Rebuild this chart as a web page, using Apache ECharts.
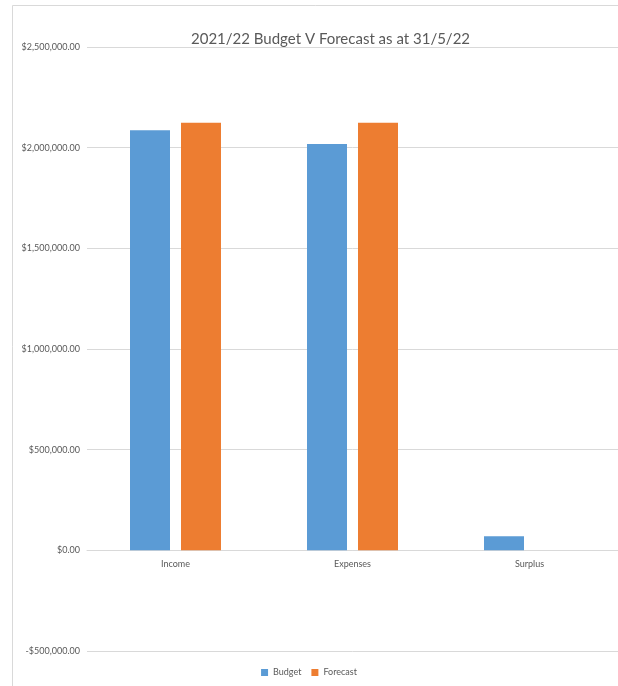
<!DOCTYPE html>
<html><head><meta charset="utf-8">
<script src="https://cdn.jsdelivr.net/npm/echarts@6/dist/echarts.min.js"></script>
<style>html,body{margin:0;padding:0;background:#fff}#c{width:618px;height:686px}</style>
</head><body><div id="c"></div>
<script>
const categories = ['Income', 'Expenses', 'Surplus'];
const budget = [2087000, 2018000, 70000];
const forecast = [2124000, 2124000, 0];
const yMin = -500000, yMax = 2500000, yStep = 500000;

const font = 'Lato, "Open Sans", sans-serif';
function money(v){
  const neg = v < 0; v = Math.abs(v);
  const s = v.toFixed(2).replace(/\B(?=(\d{3})+(?!\d))/g, ',');
  return (neg ? '-$' : '$') + s;
}
const gridTop = 47, gridH = 604;
const zeroOffset = -gridH * (0 - yMin) / (yMax - yMin);
const chart = echarts.init(document.getElementById('c'));
chart.setOption({
  animation: false,
  backgroundColor: '#fff',
  title: { text: '2021/22 Budget V Forecast as at 31/5/22', left: 186, top: 27,
    textStyle: { fontFamily: font, fontSize: 15, fontWeight: 'normal', color: '#595959' } },
  legend: { bottom: 9, left: 'center', itemWidth: 7, itemHeight: 7, itemGap: 10, icon: 'rect',
    textStyle: { fontFamily: font, fontSize: 9, color: '#595959' }, padding: [0,0,0,10] },
  graphic: [
    { type: 'polyline', shape: { points: [[12.5, 690], [12.5, 5.5], [620, 5.5]] },
      style: { stroke: '#d9d9d9', fill: null, lineWidth: 1 }, silent: true }
  ],
  grid: { left: 87, top: gridTop, right: -9, height: gridH, containLabel: false },
  xAxis: { type: 'category', data: categories, offset: zeroOffset,
    axisLine: { show: true, onZero: false, lineStyle: { color: '#d9d9d9', width: 1 } }, axisTick: { show: false },
    axisLabel: { fontFamily: font, fontSize: 9, color: '#595959', margin: 9 } },
  yAxis: { type: 'value', min: yMin, max: yMax, interval: yStep,
    axisLine: { show: false }, axisTick: { show: false },
    splitLine: { lineStyle: { color: '#d9d9d9', width: 1 } },
    axisLabel: { fontFamily: font, fontSize: 9, color: '#595959', margin: 7, formatter: money } },
  series: [
    { name: 'Budget', type: 'bar', data: budget, barWidth: 40, barGap: '27.5%',
      itemStyle: { color: '#5B9BD5' } },
    { name: 'Forecast', type: 'bar', data: forecast, barWidth: 40,
      itemStyle: { color: '#ED7D31' } }
  ]
});
</script></body></html>
